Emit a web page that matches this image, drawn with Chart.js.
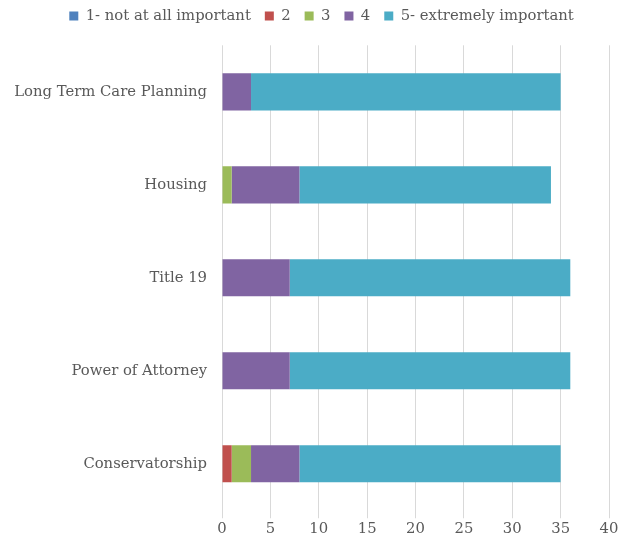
<!DOCTYPE html>
<html>
<head>
<meta charset="utf-8">
<script src="https://cdn.jsdelivr.net/npm/chart.js@4"></script>
<style>
  html, body { margin: 0; padding: 0; background: #fff; }
  #wrap { width: 623px; height: 540px; }
</style>
</head>
<body>
<div id="wrap"><canvas id="imp_chart"></canvas></div>
<script>
/* categories, top to bottom */
var topics = ["Long Term Care Planning", "Housing", "Title 19", "Power of Attorney", "Conservatorship"];
/* series */
var imp_1 = [0, 0, 0, 0, 0];
var imp_2 = [0, 0, 0, 0, 1];
var imp_3 = [0, 1, 0, 0, 2];
var imp_4 = [3, 7, 7, 7, 5];
var imp_5 = [32, 26, 29, 29, 27];
var series_names = ["1- not at all important", "2", "3", "4", "5- extremely important"];
var series_colors = ["#4F81BD", "#C0504D", "#9BBB59", "#8064A2", "#4BACC6"];
var x_ticks = [0, 5, 10, 15, 20, 25, 30, 35, 40];

var all_series = [imp_1, imp_2, imp_3, imp_4, imp_5];
var sets = [];
for (var i = 0; i < all_series.length; i++) {
    sets.push({
        label: series_names[i],
        data: all_series[i],
        backgroundColor: series_colors[i],
        borderWidth: 0,
        barPercentage: 0.8,
        categoryPercentage: 0.5
    });
}

var txt_font = { family: "'DejaVu Serif', serif", size: 14.8 };

/* extra room under the legend, and nudge it right like the original */
var legend_gap = {
    id: 'legend_gap',
    beforeInit: function(chart) {
        var orig_fit = chart.legend.fit;
        chart.legend.fit = function() {
            orig_fit.bind(chart.legend)();
            this.height += 12;
        };
    },
    afterLayout: function(chart) {
        chart.legend.left += 17;
        chart.legend.right += 17;
    }
};

var ctx = document.getElementById("imp_chart").getContext('2d');
var myChart = new Chart(ctx, {
    type: 'bar',
    data: { labels: topics, datasets: sets },
    plugins: [legend_gap],
    options: {
        indexAxis: 'y',
        responsive: true,
        maintainAspectRatio: false,
        animation: false,
        layout: { padding: { left: 0, right: 14, top: -5.5, bottom: 0 } },
        plugins: {
            legend: {
                position: 'top',
                labels: {
                    boxWidth: 9,
                    boxHeight: 9,
                    padding: 14,
                    color: '#595959',
                    font: txt_font
                }
            },
            tooltip: { enabled: false }
        },
        scales: {
            x: {
                stacked: true,
                min: 0,
                max: 40,
                afterBuildTicks: function(scale) {
                    scale.ticks = x_ticks.map(function(v) { return { value: v }; });
                },
                grid: { color: '#d9d9d9', tickLength: 8 },
                border: { display: false },
                ticks: { color: '#595959', font: txt_font, padding: 2 }
            },
            y: {
                stacked: true,
                grid: { display: false, drawTicks: false },
                border: { display: false },
                ticks: { color: '#595959', font: txt_font, padding: 15 },
                afterFit: function(scale) { scale.width = 222; }
            }
        }
    }
});
</script>
</body>
</html>
